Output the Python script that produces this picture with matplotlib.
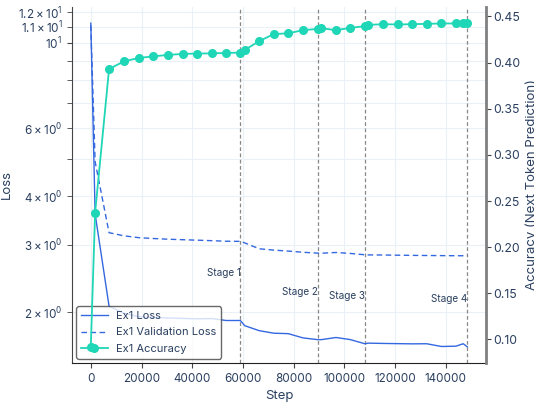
import numpy as np
import matplotlib
matplotlib.use('Agg')
import matplotlib.pyplot as plt
from matplotlib.ticker import LogLocator

# --- data ---
steps = [0, 1700, 7200, 13100, 18900, 24700, 30400, 36200, 42000, 47700,
         53400, 59000, 60700, 66400, 72100, 77900, 83700, 89500, 90900, 96700,
         102300, 108100, 109500, 115300, 121100, 126800, 132500, 138300, 144000,
         146900, 148500]
loss = [11.25, 3.60, 2.076, 1.99, 1.95, 1.94, 1.935, 1.93, 1.925, 1.928,
        1.906, 1.906, 1.848, 1.794, 1.767, 1.762, 1.718, 1.70, 1.70, 1.722,
        1.701, 1.659, 1.665, 1.662, 1.66, 1.658, 1.659, 1.632, 1.635,
        1.659, 1.629]
val_loss = [11.1, 4.92, 3.22, 3.16, 3.126, 3.11, 3.097, 3.088, 3.079, 3.07,
            3.06, 3.057, 3.03, 2.925, 2.902, 2.885, 2.865, 2.85, 2.848, 2.861,
            2.845, 2.822, 2.82, 2.818, 2.815, 2.812, 2.81, 2.808, 2.806,
            2.806, 2.806]
accuracy = [0.092, 0.2373, 0.393, 0.4014, 0.405, 0.4068, 0.4083, 0.4094, 0.4098, 0.410,
            0.4104, 0.4109, 0.4137, 0.4232, 0.4308, 0.4318, 0.4351, 0.4365, 0.4373, 0.4351,
            0.4376, 0.4395, 0.4409, 0.4416, 0.4413, 0.4416, 0.442, 0.4424, 0.4424,
            0.4427, 0.4427]

stage_names = ['Stage 1', 'Stage 2', 'Stage 3', 'Stage 4']
stage_steps = [59000, 89500, 108100, 148500]

text_color = '#2a3f5f'
blue = '#3468e0'
teal = '#1fd6b6'

plt.rcParams['font.family'] = ['Inter', 'DejaVu Sans']
plt.rcParams['text.color'] = text_color
plt.rcParams['axes.labelcolor'] = text_color
plt.rcParams['xtick.color'] = '#444444'
plt.rcParams['ytick.color'] = '#444444'
plt.rcParams['xtick.labelcolor'] = text_color
plt.rcParams['ytick.labelcolor'] = text_color

fig = plt.figure(figsize=(5.34, 4.03), dpi=100)
ax = fig.add_axes([0.1348, 0.0993, 0.7755, 0.8833])
ax2 = ax.twinx()

l1, = ax.plot(steps, loss, color=blue, lw=1.0, label='Ex1 Loss')
l2, = ax.plot(steps, val_loss, color=blue, lw=1.0, ls=(0, (4, 2.5)),
              label='Ex1 Validation Loss')
ax.set_yscale('log')
ax.yaxis.set_minor_locator(LogLocator(base=10, subs=[1.1, 1.2, 2, 3, 4, 5, 6, 7, 8, 9]))
l3, = ax2.plot(steps, accuracy, color=teal, lw=1.3, marker='o', ms=5.5,
               label='Ex1 Accuracy')

# stage markers
for name, s in zip(stage_names, stage_steps):
    ax.axvline(s, color='#888888', ls=(0, (3, 2)), lw=0.9, zorder=1)
    y = np.interp(s, steps, loss) * 1.33
    ax.text(s, y, name, ha='right', va='center', fontsize=7.2, color=text_color)

ax.grid(True, which='both', color='#ebf0f6', lw=0.8)
ax.set_axisbelow(True)
ax.tick_params(axis='both', which='both', labelsize=8.4, length=3.5)
ax2.tick_params(axis='y', labelsize=8.8, length=3.5, pad=2)
ax.set_xlabel('Step', fontsize=9.5, labelpad=4)
ax.set_ylabel('Loss', fontsize=9.5, labelpad=4)
ax2.set_ylabel('Accuracy (Next Token Prediction)', fontsize=9.5, labelpad=3)

for a in (ax, ax2):
    a.spines['top'].set_visible(False)
ax.spines['right'].set_visible(False)
ax.spines['left'].set_color('#444444')
ax.spines['bottom'].set_color('#222222')
ax2.spines['left'].set_visible(False)
ax2.spines['bottom'].set_visible(False)
ax2.spines['right'].set_color('#808080')
ax2.spines['right'].set_linewidth(2)

leg = ax.legend(handles=[l1, l2, l3], loc='lower left', fontsize=8,
                frameon=True, fancybox=True, framealpha=0.8,
                edgecolor='#444444', borderaxespad=0.4, handlelength=2.4,
                labelspacing=0.6)
leg.get_frame().set_linewidth(1.0)

fig.savefig('out.png', dpi=100)
